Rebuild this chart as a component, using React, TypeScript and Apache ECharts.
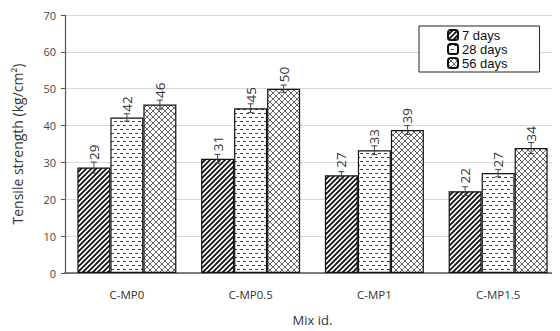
import React, { useEffect, useRef } from "react";
import * as echarts from "echarts";

const categories = ["C-MP0", "C-MP0.5", "C-MP1", "C-MP1.5"];
const seriesNames = ["7 days", "28 days", "56 days"];
const days7 = [28.6, 31.0, 26.5, 22.2];
const days28 = [42.2, 44.7, 33.3, 27.1];
const days56 = [45.7, 50.0, 38.8, 33.9];
const labels7 = [29, 31, 27, 22];
const labels28 = [42, 45, 33, 27];
const labels56 = [46, 50, 39, 34];
const err7 = [1.5, 1.2, 1.0, 1.2];
const err28 = [1.0, 1.2, 1.2, 1.0];
const err56 = [1.2, 1.0, 1.2, 1.5];
const yTicks = [0, 10, 20, 30, 40, 50, 60, 70];

function makeCanvas(w: number, h: number, draw: (c: CanvasRenderingContext2D) => void) {
  const cv = document.createElement("canvas");
  cv.width = w;
  cv.height = h;
  const ctx = cv.getContext("2d")!;
  ctx.fillStyle = "#ffffff";
  ctx.fillRect(0, 0, w, h);
  draw(ctx);
  return cv;
}

function diagPattern() {
  return makeCanvas(5, 5, (c) => {
    c.strokeStyle = "#111";
    c.lineWidth = 1.8;
    c.beginPath();
    c.moveTo(-2.5, 2.5); c.lineTo(2.5, -2.5);
    c.moveTo(0, 5); c.lineTo(5, 0);
    c.moveTo(2.5, 7.5); c.lineTo(7.5, 2.5);
    c.stroke();
  });
}

function dashPattern() {
  return makeCanvas(6, 8, (c) => {
    c.fillStyle = "#444";
    c.fillRect(0, 1, 3, 1);
    c.fillRect(3, 5, 3, 1);
  });
}

function crossPattern() {
  return makeCanvas(6, 6, (c) => {
    c.strokeStyle = "#555";
    c.lineWidth = 0.9;
    c.beginPath();
    c.moveTo(-3, 3); c.lineTo(3, -3);
    c.moveTo(0, 6); c.lineTo(6, 0);
    c.moveTo(3, 9); c.lineTo(9, 3);
    c.moveTo(-3, 3); c.lineTo(3, 9);
    c.moveTo(0, 0); c.lineTo(6, 6);
    c.moveTo(3, -3); c.lineTo(9, 3);
    c.stroke();
  });
}

export default function App() {
  const ref = useRef<HTMLDivElement>(null);
  useEffect(() => {
    if (!ref.current) return;
    const chart = echarts.init(ref.current, undefined, { renderer: "svg" });
    const font = "Open Sans";
    const patterns = [diagPattern(), dashPattern(), crossPattern()];
    const values = [days7, days28, days56];
    const labelVals = [labels7, labels28, labels56];
    const errs = [err7, err28, err56];
    const gapFrac = 0.2;

    const barSeries = values.map((vals, si) => ({
      name: seriesNames[si],
      type: "bar",
      data: vals,
      barGap: "0%",
      barCategoryGap: "20%",
      itemStyle: {
        color: { image: patterns[si], repeat: "repeat" },
        borderColor: "#111",
        borderWidth: 1.2,
      },
      label: {
        show: true,
        position: "top",
        rotate: 90,
        align: "left",
        verticalAlign: "middle",
        distance: 2 + errs[si][0] * 3.74,
        fontFamily: font,
        fontSize: 13.5,
        color: "#333",
        formatter: (p: any) => String(labelVals[si][p.dataIndex]),
      },
      z: 2,
    }));

    const errSeries = values.map((vals, si) => ({
      name: seriesNames[si] + " err",
      type: "custom",
      data: vals.map((v, i) => [i, v, errs[si][i]]),
      z: 5,
      silent: true,
      renderItem: (params: any, api: any) => {
        const idx = api.value(0);
        const v = api.value(1);
        const e = api.value(2);
        const band = api.size([1, 0])[0];
        const bw = (band * (1 - gapFrac)) / 3;
        const center = api.coord([idx, v]);
        const x = center[0] + (si - 1) * bw;
        const yTop = api.coord([idx, v + e])[1];
        const yBot = api.coord([idx, v - e])[1];
        const cap = 3;
        const style = { stroke: "#444", lineWidth: 1 };
        return {
          type: "group",
          children: [
            { type: "line", shape: { x1: x, y1: yTop, x2: x, y2: yBot }, style },
            { type: "line", shape: { x1: x - cap, y1: yTop, x2: x + cap, y2: yTop }, style },
            { type: "line", shape: { x1: x - cap, y1: yBot, x2: x + cap, y2: yBot }, style },
          ],
        };
      },
    }));

    chart.setOption({
      animation: false,
      backgroundColor: "#ffffff",
      textStyle: { fontFamily: font },
      grid: { left: 65, top: 15, width: 499, height: 262, containLabel: false },
      legend: {
        data: seriesNames,
        orient: "vertical",
        left: 419,
        top: 26,
        itemWidth: 10,
        itemHeight: 10,
        itemGap: 0,
        padding: [2, 32, 2, 28],
        borderColor: "#222",
        borderWidth: 1,
        backgroundColor: "#fff",
        textStyle: {
          fontFamily: "Liberation Sans",
          fontSize: 13,
          lineHeight: 14,
          color: "#111",
          padding: [0, 0, 0, -1],
        },
      },
      xAxis: {
        type: "category",
        data: categories,
        name: "Mix id.",
        nameLocation: "middle",
        nameGap: 40,
        nameTextStyle: { fontFamily: font, fontSize: 13, color: "#333" },
        axisLine: { lineStyle: { color: "#555", width: 1.5 } },
        axisTick: { show: false },
        axisLabel: { fontFamily: font, fontSize: 11.5, color: "#333", margin: 15 },
      },
      yAxis: {
        type: "value",
        min: 0,
        max: 70,
        interval: 10,
        name: "Tensile strength (kg/cm²)",
        nameLocation: "middle",
        nameGap: 41,
        nameTextStyle: { fontFamily: font, fontSize: 14, color: "#333" },
        axisLine: { show: true, lineStyle: { color: "#555", width: 1.2 } },
        axisTick: { show: true, inside: false, length: 4, lineStyle: { color: "#555" } },
        axisLabel: {
          fontFamily: font,
          fontSize: 11,
          color: "#444",
          margin: 9,
          formatter: (v: number) => (yTicks.includes(v) ? String(v) : ""),
        },
        splitLine: { show: true, lineStyle: { color: "#d9d9d9", width: 1 } },
      },
      series: [...barSeries, ...errSeries],
    });
    return () => chart.dispose();
  }, []);
  return <div ref={ref} style={{ width: 560, height: 331, marginLeft: -8, marginTop: -8 }} />;
}
